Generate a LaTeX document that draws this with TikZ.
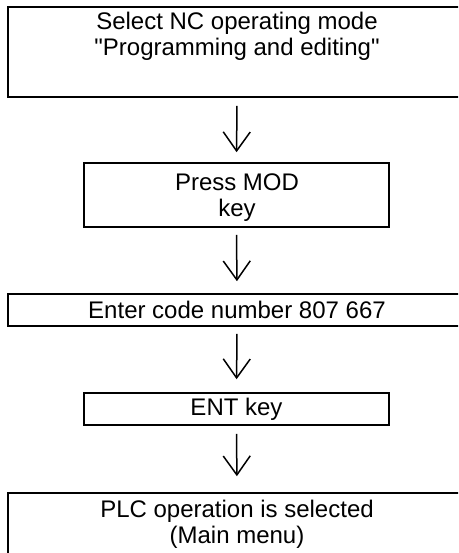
\documentclass[tikz,border=0pt]{standalone}
\usepackage{fontspec}
\setmainfont{Liberation Sans}
\usetikzlibrary{arrows.meta}
\begin{document}
\begin{tikzpicture}[x=1pt,y=-1pt,
  box/.style={draw, line width=1.6pt, inner sep=0pt, font=\fontsize{24}{26}\selectfont},
  lbl/.style={font=\fontsize{24}{26}\selectfont, align=center, inner sep=0pt},
  flow/.style={line width=1.5pt, -{Straight Barb[length=19pt,width=27pt,line width=1.5pt]}}
]
\useasboundingbox (0,0) rectangle (458,553);
\clip (0,0) rectangle (458,553);
\node[box, minimum width=458pt, minimum height=90pt] (b1) at (237,52) {};
\node[lbl] (t1) at (237,36) {Select NC operating mode\\\textquotedbl Programming and editing\textquotedbl};
\node[box, minimum width=305pt, minimum height=64pt] (b2) at (236.5,195) {};
\node[lbl] (t2) at (237,198) {Press MOD\\key};
\node[box, minimum width=458pt, minimum height=32pt] (b3) at (237,310) {Enter code number 807 667};
\node[box, minimum width=305pt, minimum height=32pt] (b4) at (236.5,409) {ENT key};
\node[box, minimum width=458pt, minimum height=74pt] (b5) at (237,530) {};
\node[lbl] (t5) at (237,524) {PLC operation is selected\\(Main menu)};
\draw[flow, shorten <=8pt, shorten >=10pt] (b1.south) -- (b2.north);
\draw[flow, shorten <=7pt, shorten >=12pt] (b2.south) -- (b3.north);
\draw[flow, shorten <=7pt, shorten >=13pt] (b3.south) -- (b4.north);
\draw[flow, shorten <=8pt, shorten >=16pt] (b4.south) -- (b5.north);
\end{tikzpicture}
\end{document}
